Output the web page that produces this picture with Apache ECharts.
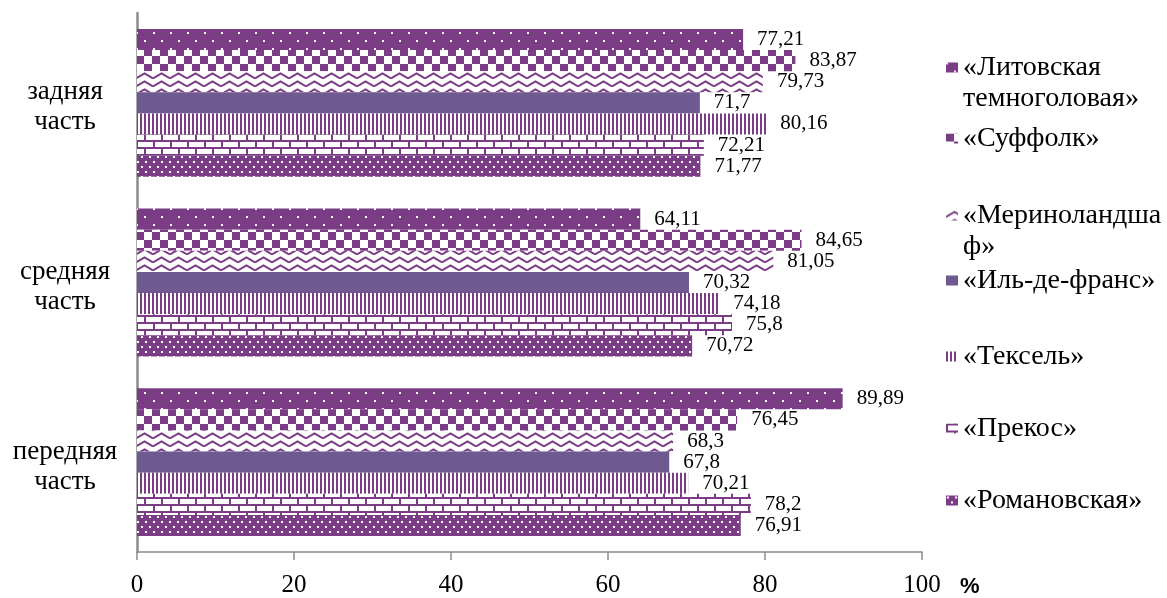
<!DOCTYPE html>
<html>
<head>
<meta charset="utf-8">
<script src="https://cdn.jsdelivr.net/npm/echarts@6/dist/echarts.min.js"></script>
<style>
  html, body { margin: 0; padding: 0; background: #fff; }
  #chart { width: 1167px; height: 598px; }
</style>
</head>
<body>
<div id="chart"></div>
<script>
// Categories, bottom to top on the vertical axis
const categories = ['передняя\nчасть', 'средняя\nчасть', 'задняя\nчасть'];

// Breed names (legend order, top to bottom)
const breeds = ['«Литовская\nтемноголовая»', '«Суффолк»', '«Мериноландша\nф»', '«Иль-де-франс»', '«Тексель»', '«Прекос»', '«Романовская»'];

// Values, %, per category [передняя, средняя, задняя]
const litovskaya = [89.89, 64.11, 77.21];
const suffolk = [76.45, 84.65, 83.87];
const merinolandshaf = [68.3, 81.05, 79.73];
const ileDeFrance = [67.8, 70.32, 71.7];
const texel = [70.21, 74.18, 80.16];
const prekos = [78.2, 75.8, 72.21];
const romanovskaya = [76.91, 70.72, 71.77];

const xTicks = [0, 20, 40, 60, 80, 100];

const PURPLE = '#7a3d85';
const SOLID = '#6e5990';
const SERIF = '"Liberation Serif", "Times New Roman", serif';

function tile(w, h, draw) {
  const c = document.createElement('canvas');
  c.width = w; c.height = h;
  const g = c.getContext('2d');
  draw(g);
  return { image: c, repeat: 'repeat' };
}

// Fill patterns
const patSparseDots = tile(17, 16, g => {
  g.fillStyle = PURPLE; g.fillRect(0, 0, 17, 16);
  g.fillStyle = '#fff'; g.fillRect(0, 0, 2, 2); g.fillRect(8, 8, 2, 2);
});
const patChecker = tile(16, 16, g => {
  g.fillStyle = '#fff'; g.fillRect(0, 0, 16, 16);
  g.fillStyle = PURPLE; g.fillRect(0, 0, 8, 8); g.fillRect(8, 8, 8, 8);
});
const patZigzag = tile(17, 8, g => {
  g.fillStyle = '#fff'; g.fillRect(0, 0, 17, 8);
  g.strokeStyle = PURPLE; g.lineWidth = 2;
  g.beginPath(); g.moveTo(0, 6.5); g.lineTo(8.5, 1.5); g.lineTo(17, 6.5); g.stroke();
});
const patVertical = tile(4, 4, g => {
  g.fillStyle = '#fff'; g.fillRect(0, 0, 4, 4);
  g.fillStyle = PURPLE; g.fillRect(0, 0, 2, 4);
});
const patBrick = tile(17, 14, g => {
  g.fillStyle = '#fff'; g.fillRect(0, 0, 17, 14);
  g.fillStyle = PURPLE;
  g.fillRect(0, 0, 17, 2); g.fillRect(0, 7, 17, 2);
  g.fillRect(0, 0, 2, 7); g.fillRect(8, 7, 2, 7);
});
const patDenseDots = tile(8, 10, g => {
  g.fillStyle = PURPLE; g.fillRect(0, 0, 8, 10);
  g.fillStyle = '#fff'; g.fillRect(1, 1, 2, 2); g.fillRect(5, 6, 2, 2);
});

const seriesData = [litovskaya, suffolk, merinolandshaf, ileDeFrance, texel, prekos, romanovskaya];
const fills = [patSparseDots, patChecker, patZigzag, SOLID, patVertical, patBrick, patDenseDots];

// Legend entry tops (one legend component per breed)
const legendTops = [21, 123, 169, 265, 341, 413, 485];

const fmt = v => String(v).replace('.', ',');

const series = breeds.map((name, i) => ({
  name: name,
  type: 'bar',
  data: seriesData[i],
  barGap: '0%',
  barCategoryGap: '17.7%',
  itemStyle: { color: fills[i] },
  label: {
    show: true,
    position: 'right',
    distance: 14,
    formatter: p => fmt(p.value),
    fontFamily: SERIF,
    fontSize: 21,
    color: '#000'
  }
}));

// A two-line name gets an empty first line so the marker sits level with its first line
const legends = breeds.map((name, i) => ({
  data: [name],
  orient: 'vertical',
  left: 946,
  top: legendTops[i],
  padding: 0,
  icon: 'rect',
  itemWidth: 12,
  itemHeight: 10,
  selectedMode: false,
  formatter: n => (n.indexOf('\n') >= 0 ? '\n' + n : n),
  textStyle: {
    fontFamily: SERIF,
    fontSize: 28,
    lineHeight: 31,
    color: '#000'
  }
}));

const chart = echarts.init(document.getElementById('chart'));
chart.setOption({
  animation: false,
  backgroundColor: '#fff',
  legend: legends,
  grid: { left: 137, right: 245, top: 13, bottom: 43, containLabel: false },
  xAxis: {
    type: 'value',
    min: xTicks[0],
    max: xTicks[xTicks.length - 1],
    interval: 20,
    name: '%',
    nameLocation: 'end',
    nameGap: 38,
    nameTextStyle: {
      fontFamily: '"Liberation Sans", Arial, sans-serif',
      fontWeight: 'bold',
      fontSize: 22,
      color: '#000',
      align: 'left',
      verticalAlign: 'top',
      padding: [24, 0, 0, 0]
    },
    axisLine: { show: true, lineStyle: { color: '#8c8c8c', width: 1.5 } },
    axisTick: { show: true, length: 8, lineStyle: { color: '#8c8c8c', width: 1.5 } },
    splitLine: { show: false },
    axisLabel: {
      fontFamily: SERIF,
      fontSize: 25,
      color: '#000',
      margin: 21
    }
  },
  yAxis: {
    type: 'category',
    data: categories,
    axisLine: { show: true, lineStyle: { color: '#8c8c8c', width: 2.5 } },
    axisTick: { show: false },
    axisLabel: {
      align: 'center',
      margin: 72,
      // a short spacer line nudges the two-line label a little lower
      formatter: v => '{g|}\n' + v.split('\n').map(s => '{t|' + s + '}').join('\n'),
      rich: {
        g: { fontSize: 8, lineHeight: 9 },
        t: { fontFamily: SERIF, fontSize: 27, lineHeight: 30, color: '#000' }
      }
    }
  },
  series: series
});
</script>
</body>
</html>
